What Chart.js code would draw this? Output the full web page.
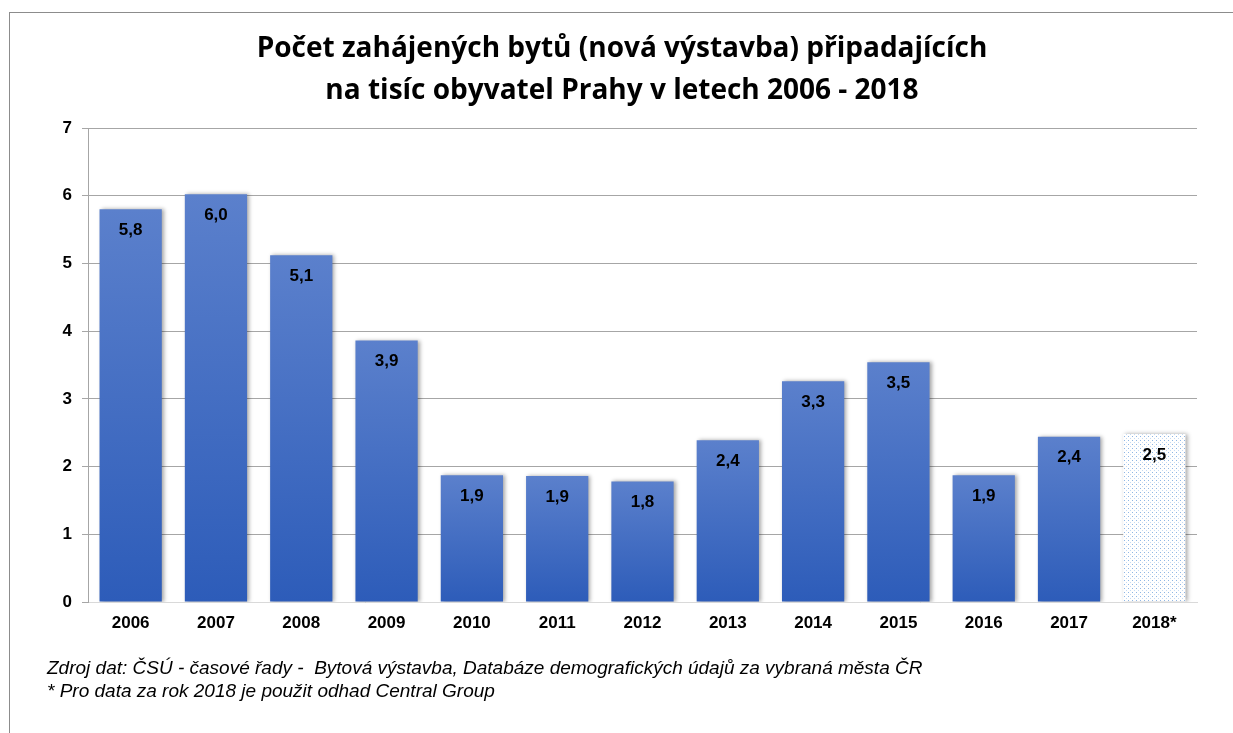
<!DOCTYPE html>
<html>
<head>
<meta charset="utf-8">
<script src="https://cdn.jsdelivr.net/npm/chart.js@4.4.1/dist/chart.umd.min.js"></script>
<style>
  html, body {margin: 0; padding: 0; background: #fff;}
  #frame {position: absolute; left: 9px; top: 12px; right: 0; bottom: 0; border-top: 1px solid #8c8c8c; border-left: 1px solid #8c8c8c;}
  #wrap {position: absolute; left: 0; top: 0; width: 1233px; height: 733px;}
</style>
</head>
<body>
<div id="frame"></div>
<div id="wrap"><canvas id="chart" width="1233" height="733"></canvas></div>
<script>
const years = ['2006', '2007', '2008', '2009', '2010', '2011', '2012', '2013', '2014', '2015', '2016', '2017', '2018*'];
const perThousand = [5.8, 6.02, 5.12, 3.86, 1.87, 1.86, 1.78, 2.39, 3.26, 3.54, 1.87, 2.44, 2.48];
const yTicks = [0, 1, 2, 3, 4, 5, 6, 7];
const titleLines = ['Počet zahájených bytů (nová výstavba) připadajících', 'na tisíc obyvatel Prahy v letech 2006 - 2018'];
const footLines = ['Zdroj dat: ČSÚ - časové řady -  Bytová výstavba, Databáze demografických údajů za vybraná města ČR', '* Pro data za rok 2018 je použit odhad Central Group'];

const tickFont = {family: '"Liberation Sans", Arial, sans-serif', size: 17, weight: 'bold'};

function dotPattern() {
  const c = document.createElement('canvas');
  c.width = 4; c.height = 4;
  const g = c.getContext('2d');
  g.fillStyle = '#ffffff';
  g.fillRect(0, 0, 4, 4);
  g.fillStyle = '#8fb6e4';
  g.fillRect(0, 0, 1, 1);
  g.fillStyle = '#c5daf2';
  g.fillRect(2, 2, 1, 1);
  return g.createPattern(c, 'repeat');
}
const pattern = dotPattern();

function barFill(context) {
  const chart = context.chart;
  if (context.dataIndex === years.length - 1) return pattern;
  const y = chart.scales.y;
  if (!chart.chartArea || !y) return '#4570c4';
  const top = y.getPixelForValue(context.raw);
  const bottom = y.getPixelForValue(0);
  const g = chart.ctx.createLinearGradient(0, top, 0, bottom);
  g.addColorStop(0, '#5b80cc');
  g.addColorStop(1, '#2d5cb9');
  return g;
}

const shadowPlugin = {
  id: 'shadow',
  beforeDatasetsDraw(chart) {
    const ctx = chart.ctx;
    ctx.save();
    ctx.shadowColor = 'rgba(0,0,0,0.35)';
    ctx.shadowBlur = 4;
    ctx.shadowOffsetX = 2;
    ctx.shadowOffsetY = 0;
  },
  afterDatasetsDraw(chart) {
    chart.ctx.restore();
  }
};

const labelPlugin = {
  id: 'valueLabels',
  afterDraw(chart) {
    const ctx = chart.ctx;
    const meta = chart.getDatasetMeta(0);
    ctx.save();
    ctx.font = 'bold 17px "Liberation Sans", Arial, sans-serif';
    ctx.fillStyle = '#000';
    ctx.textAlign = 'center';
    ctx.textBaseline = 'middle';
    meta.data.forEach((bar, i) => {
      const txt = (Math.round(perThousand[i] * 10) / 10).toFixed(1).replace('.', ',');
      ctx.fillText(txt, bar.x, bar.y + 21);
    });
    ctx.restore();
  }
};

new Chart(document.getElementById('chart').getContext('2d'), {
  type: 'bar',
  data: {
    labels: years,
    datasets: [{
      data: perThousand,
      backgroundColor: barFill,
      borderWidth: 0,
      barPercentage: 0.73,
      categoryPercentage: 1
    }]
  },
  options: {
    responsive: false,
    animation: false,
    devicePixelRatio: 1,
    layout: {padding: {left: 47, right: 36, top: 0, bottom: 10}},
    scales: {
      x: {
        grid: {display: false},
        border: {color: '#d9d9d9', width: 1},
        ticks: {color: '#000', font: tickFont, padding: 3}
      },
      y: {
        min: 0, max: 7,
        afterBuildTicks: axis => { axis.ticks = yTicks.map(v => ({value: v})); },
        afterFit: axis => { axis.width = 41; },
        grid: {color: '#a6a6a6', tickLength: 6, tickColor: '#a6a6a6'},
        border: {color: '#a6a6a6'},
        ticks: {color: '#000', font: tickFont, padding: 10}
      }
    },
    plugins: {
      legend: {display: false},
      tooltip: {enabled: false},
      title: {
        display: true,
        text: titleLines,
        color: '#000',
        font: {family: '"Open Sans", sans-serif', size: 28, weight: 'bold', lineHeight: 1.5},
        padding: {top: 28, bottom: 16}
      },
      subtitle: {
        display: true,
        position: 'bottom',
        align: 'start',
        text: footLines,
        color: '#000',
        font: {family: '"Liberation Sans", Arial, sans-serif', size: 19, style: 'italic', lineHeight: 1.2},
        padding: {top: 21, bottom: 20}
      }
    }
  },
  plugins: [shadowPlugin, labelPlugin]
});
</script>
</body>
</html>
